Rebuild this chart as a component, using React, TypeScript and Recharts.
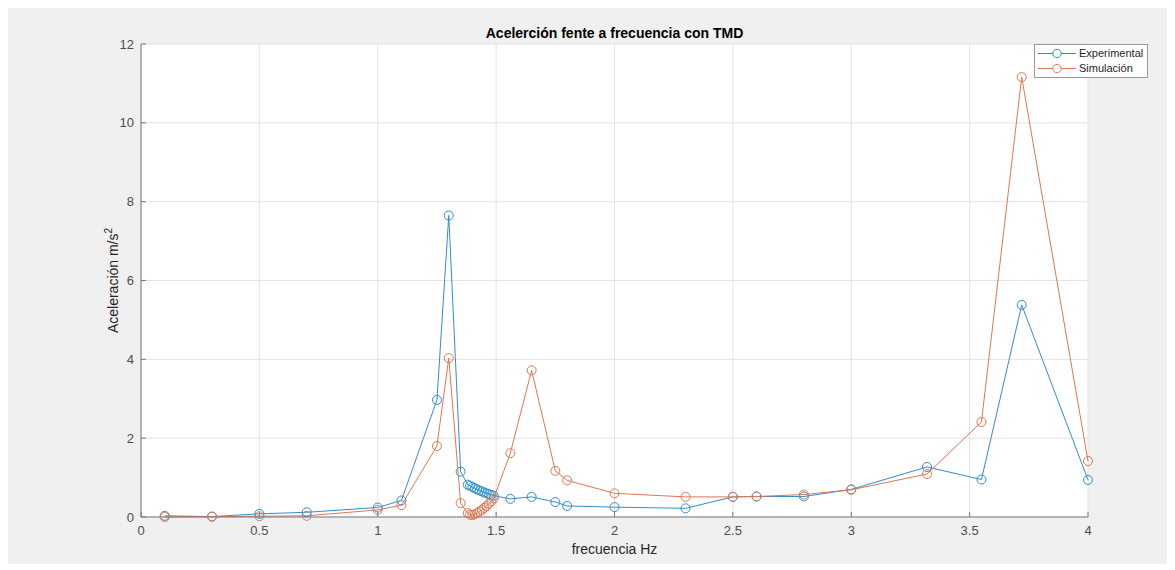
import React from 'react';
import { LineChart, Line, XAxis, YAxis, CartesianGrid, Legend } from 'recharts';

const frequencies = [
  0.1, 0.3, 0.5, 0.7, 1.0, 1.1, 1.25, 1.3, 1.35,
  1.38, 1.39, 1.4, 1.41, 1.42, 1.43, 1.44, 1.45, 1.46, 1.47, 1.48, 1.49,
  1.56, 1.65, 1.75, 1.8, 2.0, 2.3, 2.5, 2.6, 2.8, 3.0, 3.32, 3.55, 3.72, 4.0,
];

const experimental = [
  0.03, 0.01, 0.08, 0.12, 0.24, 0.42, 2.97, 7.65, 1.15,
  0.82, 0.79, 0.76, 0.73, 0.7, 0.67, 0.65, 0.62, 0.6, 0.58, 0.56, 0.54,
  0.46, 0.51, 0.38, 0.28, 0.25, 0.22, 0.51, 0.52, 0.52, 0.7, 1.27, 0.95, 5.38, 0.94,
];

const simulation = [
  0.0, 0.01, 0.02, 0.03, 0.18, 0.3, 1.8, 4.03, 0.35,
  0.1, 0.06, 0.05, 0.07, 0.1, 0.14, 0.18, 0.23, 0.28, 0.34, 0.4, 0.47,
  1.62, 3.72, 1.17, 0.93, 0.6, 0.51, 0.51, 0.52, 0.57, 0.69, 1.09, 2.41, 11.16, 1.42,
];

const xTicks = [0, 0.5, 1, 1.5, 2, 2.5, 3, 3.5, 4];
const yTicks = [0, 2, 4, 6, 8, 10, 12];

const TITLE = 'Acelerción fente a frecuencia con TMD';
const X_LABEL = 'frecuencia Hz';
const EXP_NAME = 'Experimental';
const SIM_NAME = 'Simulación';

const BLUE = '#2f8ed0';
const ORANGE = '#e27650';
const FONT = '"Liberation Sans", Arial, Helvetica, sans-serif';

const expData = frequencies.map((f, i) => ({ f, v: experimental[i] }));
const simData = frequencies.map((f, i) => ({ f, v: simulation[i] }));

const YLabel = (props: any) => {
  const vb = props.viewBox || {};
  const cx = vb.x + 17;
  const cy = vb.y + vb.height / 2;
  return (
    <text
      x={cx}
      y={cy}
      transform={`rotate(-90, ${cx}, ${cy})`}
      textAnchor="middle"
      fill="#262626"
      fontSize={14}
      fontFamily={FONT}
    >
      Aceleración m/s
      <tspan fontSize={10} dy={-6}>2</tspan>
    </text>
  );
};

const LegendBox = (props: any) => {
  const payload = props.payload || [];
  return (
    <div
      style={{
        background: '#fff',
        border: '1px solid #9a9a9a',
        padding: '1px 4px 1px 2px',
        fontFamily: FONT,
        fontSize: 11,
        color: '#262626',
        lineHeight: '15px',
      }}
    >
      {payload.map((p: any) => (
        <div key={p.value} style={{ display: 'flex', alignItems: 'center' }}>
          <svg width={40} height={15} style={{ marginRight: 2 }}>
            <line x1={1} y1={7.5} x2={39} y2={7.5} stroke={p.color} strokeWidth={1} />
            <circle cx={20} cy={7.5} r={4.2} fill="#fff" stroke={p.color} strokeWidth={1} />
          </svg>
          <span>{p.value}</span>
        </div>
      ))}
    </div>
  );
};

export default function App() {
  return (
    <div style={{ position: 'relative', width: 1160, height: 556, background: '#f0f0f0' }}>
      <div
        style={{
          position: 'absolute',
          left: 133,
          width: 947,
          top: 17,
          textAlign: 'center',
          fontFamily: FONT,
          fontWeight: 'bold',
          fontSize: 14,
          color: '#000',
        }}
      >
        {TITLE}
      </div>
      <LineChart
        width={1160}
        height={556}
        margin={{ top: 36, right: 80, bottom: 17, left: 93 }}
      >
        <CartesianGrid stroke="#e3e3e3" fill="#ffffff" strokeWidth={1} />
        <XAxis
          type="number"
          dataKey="f"
          domain={[0, 4]}
          ticks={xTicks}
          height={30}
          tickSize={-5}
          tickMargin={14}
          stroke="#7a7a7a"
          tick={{ fill: '#4d4d4d', fontSize: 13, fontFamily: FONT }}
          interval={0}
          label={{
            value: X_LABEL,
            position: 'insideBottom',
            offset: -7,
            fill: '#262626',
            fontSize: 14,
            fontFamily: FONT,
          }}
        />
        <YAxis
          type="number"
          domain={[0, 12]}
          ticks={yTicks}
          width={40}
          tickSize={-5}
          tickMargin={12}
          stroke="#7a7a7a"
          tick={{ fill: '#4d4d4d', fontSize: 13, fontFamily: FONT }}
          interval={0}
          label={<YLabel />}
        />
        <Legend
          layout="vertical"
          align="center"
          verticalAlign="middle"
          content={<LegendBox />}
          wrapperStyle={{ position: 'absolute', left: 1026, top: 36, width: 'auto', height: 'auto' }}
        />
        <Line
          data={expData}
          dataKey="v"
          name={EXP_NAME}
          type="linear"
          stroke={BLUE}
          strokeWidth={1}
          dot={{ r: 4.5, fill: 'none', stroke: BLUE, strokeWidth: 1, clipDot: false }}
          activeDot={false}
          isAnimationActive={false}
        />
        <Line
          data={simData}
          dataKey="v"
          name={SIM_NAME}
          type="linear"
          stroke={ORANGE}
          strokeWidth={1}
          dot={{ r: 4.5, fill: 'none', stroke: ORANGE, strokeWidth: 1, clipDot: false }}
          activeDot={false}
          isAnimationActive={false}
        />
      </LineChart>
    </div>
  );
}
